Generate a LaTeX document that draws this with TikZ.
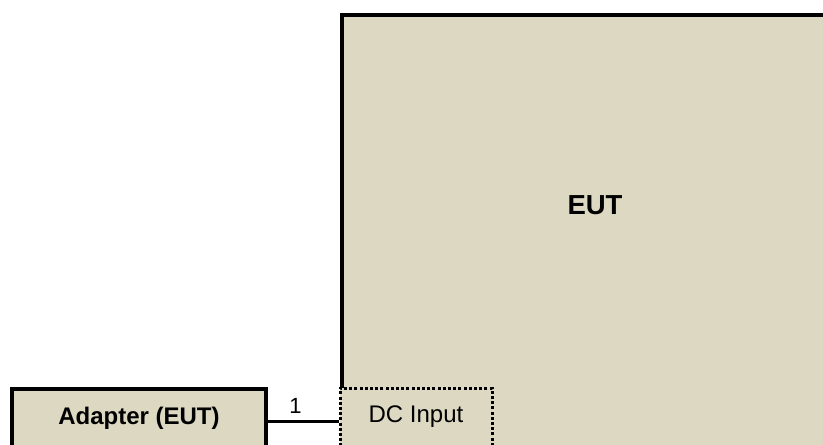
\documentclass[tikz,border=0pt]{standalone}
\usepackage{fontspec}
\setmainfont{Liberation Sans}
\definecolor{unitfill}{RGB}{221,216,194}
\tikzset{%
  unitbox/.style={draw=black,line width=4pt,fill=unitfill,inner sep=0},
  portbox/.style={draw=black,line width=3pt,dash pattern=on 3pt off 2.2pt,fill=unitfill,inner sep=0},
  ulabel/.style={inner sep=0,anchor=base,font=\bfseries\fontsize{24}{28}\selectfont},
  plabel/.style={inner sep=0,anchor=base,font=\fontsize{24}{28}\selectfont},
  cable/.style={draw=black,line width=3pt}
}
\begin{document}
\begin{tikzpicture}[x=1pt,y=-1pt]
      \clip (0,0) rectangle (823,445);
      \path
        (595,240) node (eut)[unitbox,minimum width=506,minimum height=450]{}
        (416,421.5) node (dcin)[portbox,minimum width=152,minimum height=67]{}
        (139,421.5) node (adapter)[unitbox,minimum width=254,minimum height=65]{};
      \path
        (595,214) node (eut_t)[ulabel,font=\bfseries\fontsize{27.5}{32}\selectfont]{EUT}
        (139,424) node (adapter_t)[ulabel]{Adapter (EUT)}
        (416,422) node (dcin_t)[plabel]{DC Input};
      \draw[cable] (adapter.east) -- node[pos=0.39,above=7pt,inner sep=0,font=\fontsize{22}{25}\selectfont] (cbl_1){1} (dcin.west);
    \end{tikzpicture}
\end{document}
